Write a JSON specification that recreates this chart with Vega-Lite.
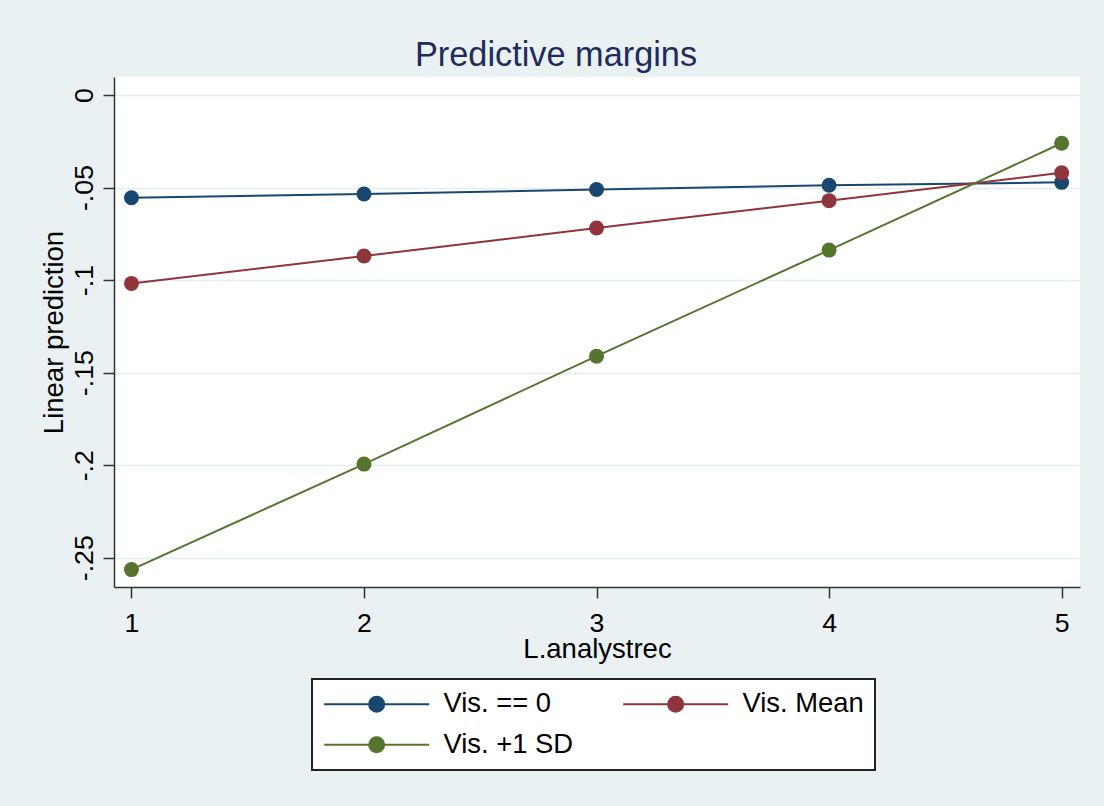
{
  "$schema": "https://vega.github.io/schema/vega-lite/v6.json",
  "width": 966,
  "height": 510,
  "autosize": {"type": "none"},
  "padding": {"left": 114, "top": 77, "right": 24, "bottom": 219},
  "background": "#EAF1F3",
  "title": {
    "text": "Predictive margins",
    "font": "Liberation Sans",
    "fontSize": 34.3,
    "fontWeight": "normal",
    "color": "#1E2C5C",
    "anchor": "middle",
    "frame": "group",
    "dx": -41,
    "dy": 35,
    "baseline": "alphabetic",
    "offset": 12
  },
  "data": {
    "values": [
      {"lag": 1, "series": "Vis. == 0", "margin": -0.0555},
      {"lag": 2, "series": "Vis. == 0", "margin": -0.0535},
      {"lag": 3, "series": "Vis. == 0", "margin": -0.0511},
      {"lag": 4, "series": "Vis. == 0", "margin": -0.0488},
      {"lag": 5, "series": "Vis. == 0", "margin": -0.0472},
      {"lag": 1, "series": "Vis. Mean", "margin": -0.1018},
      {"lag": 2, "series": "Vis. Mean", "margin": -0.0870},
      {"lag": 3, "series": "Vis. Mean", "margin": -0.0719},
      {"lag": 4, "series": "Vis. Mean", "margin": -0.0571},
      {"lag": 5, "series": "Vis. Mean", "margin": -0.0420},
      {"lag": 1, "series": "Vis. +1 SD", "margin": -0.2564},
      {"lag": 2, "series": "Vis. +1 SD", "margin": -0.1994},
      {"lag": 3, "series": "Vis. +1 SD", "margin": -0.1411},
      {"lag": 4, "series": "Vis. +1 SD", "margin": -0.0838},
      {"lag": 5, "series": "Vis. +1 SD", "margin": -0.0261}
    ]
  },
  "encoding": {
    "x": {
      "field": "lag",
      "type": "quantitative",
      "scale": {"domain": [0.925, 5.079], "nice": false, "zero": false},
      "axis": {
        "values": [1, 2, 3, 4, 5],
        "format": "d",
        "grid": false,
        "tickSize": 11,
        "tickWidth": 1.5,
        "tickColor": "#333333",
        "domainColor": "#333333",
        "domainWidth": 1.5,
        "labelFont": "Liberation Sans",
        "labelFontSize": 26.7,
        "labelColor": "black",
        "labelBaseline": "alphabetic",
        "labelPadding": 33,
        "labelFlush": false,
        "title": "L.analystrec",
        "titleFont": "Liberation Sans",
        "titleFontSize": 27.5,
        "titleFontWeight": "normal",
        "titleColor": "black",
        "titleBaseline": "alphabetic",
        "titleY": 70,
        "titleX": 483
      }
    },
    "y": {
      "field": "margin",
      "type": "quantitative",
      "scale": {"domain": [-0.2658, 0.0097], "nice": false, "zero": false},
      "axis": {
        "values": [0, -0.05, -0.1, -0.15, -0.2, -0.25],
        "labelExpr": "datum.value == 0 ? '0' : '-' + replace(format(abs(datum.value), '.2~f'), '0.', '.')",
        "grid": true,
        "gridColor": "#E4EDF0",
        "gridWidth": 1.5,
        "tickSize": 11,
        "tickWidth": 1.5,
        "tickColor": "#333333",
        "domainColor": "#333333",
        "domainWidth": 1.5,
        "labelFont": "Liberation Sans",
        "labelFontSize": 26.7,
        "labelColor": "black",
        "labelAngle": -90,
        "labelAlign": "center",
        "labelBaseline": "alphabetic",
        "labelPadding": 11,
        "labelFlush": false,
        "labelOverlap": false,
        "title": "Linear prediction",
        "titleFont": "Liberation Sans",
        "titleFontSize": 27.5,
        "titleFontWeight": "normal",
        "titleColor": "black",
        "titleAngle": -90,
        "titleAlign": "center",
        "titleBaseline": "alphabetic",
        "titleX": -52,
        "titleY": 255
      }
    },
    "color": {
      "field": "series",
      "type": "nominal",
      "sort": ["Vis. == 0", "Vis. Mean", "Vis. +1 SD"],
      "scale": {
        "domain": ["Vis. == 0", "Vis. Mean", "Vis. +1 SD"],
        "range": ["#1A476F", "#90353B", "#55752F"]
      },
      "legend": {
        "orient": "none",
        "legendX": 198,
        "legendY": 602,
        "direction": "horizontal",
        "title": null,
        "columns": 2,
        "symbolType": "M-1.67,0H12.33M4.33,0A1,1,0,1,1,6.33,0A1,1,0,1,1,4.33,0Z",
        "symbolSize": 225,
        "symbolStrokeWidth": 2,
        "symbolOpacity": 1,
        "labelFont": "Liberation Sans",
        "labelFontSize": 27.4,
        "labelColor": "black",
        "labelOffset": 93,
        "columnPadding": 45,
        "rowPadding": 12,
        "padding": 11,
        "strokeColor": "#222222",
        "fillColor": "white",
        "encode": {
          "legend": {"update": {"strokeWidth": {"value": 2}}},
          "symbols": {
            "update": {
              "fill": {"scale": "color", "field": "value"},
              "stroke": {"scale": "color", "field": "value"},
              "opacity": {"value": 1}
            }
          }
        }
      }
    }
  },
  "layer": [
    {"mark": {"type": "line", "strokeWidth": 2}},
    {"mark": {"type": "point", "filled": true, "size": 225, "opacity": 1, "shape": "circle"}}
  ],
  "config": {
    "view": {"fill": "white", "stroke": null},
    "font": "Liberation Sans"
  }
}
